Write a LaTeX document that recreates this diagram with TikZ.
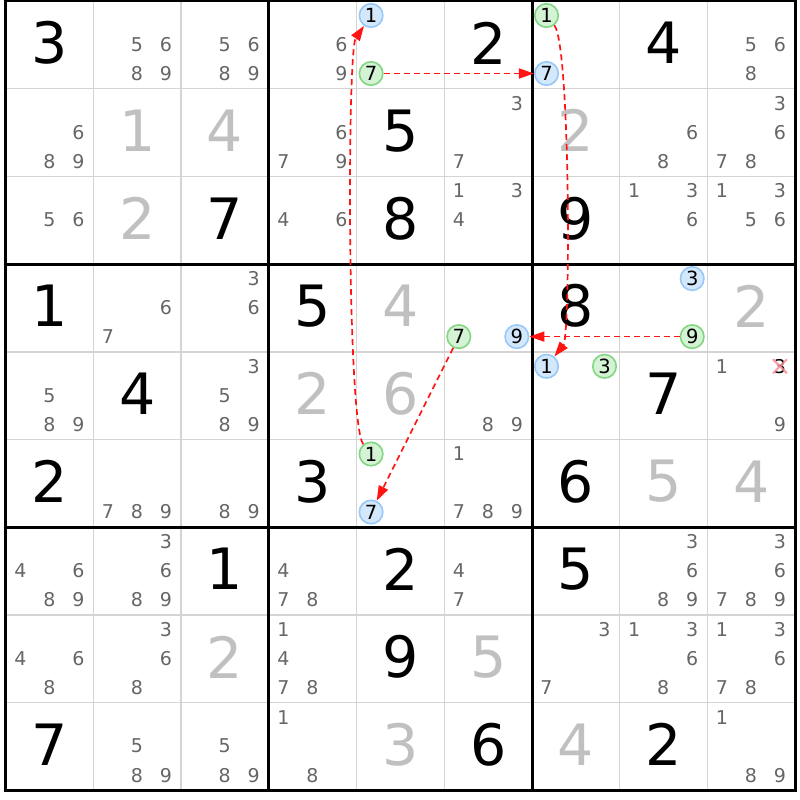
\documentclass[tikz,border=0pt]{standalone}
\usepackage{fontspec}
\setmainfont{DejaVu Sans}
\usetikzlibrary{arrows.meta}
\definecolor{candgray}{RGB}{102,102,102}
\definecolor{solvgray}{RGB}{192,192,192}
\definecolor{thingray}{RGB}{212,212,212}
\definecolor{bfill}{RGB}{212,232,252}
\definecolor{bdraw}{RGB}{150,200,250}
\definecolor{gfill}{RGB}{212,242,212}
\definecolor{gdraw}{RGB}{130,214,130}
\definecolor{linkred}{RGB}{255,20,20}
\definecolor{crosspink}{RGB}{245,140,150}
\newcommand\placemark[5]{%
  \pgfmathsetmacro\px{5.8+87.7*#3+14.5+29*mod(#5-1,3)}%
  \pgfmathsetmacro\py{1+87.7*#4+14.5+29*floor((#5-1)/3)}%
  \node[#1] (#2) at (\px,\py) {#5};}
\begin{document}
\begin{tikzpicture}[x=1pt,y=-1pt,
  given/.style={font=\fontsize{57}{60}\selectfont, text=black, inner sep=0pt},
  solved/.style={given, text=solvgray},
  cand/.style={font=\fontsize{19}{20}\selectfont, text=candgray, inner sep=0pt},
  bmark/.style={circle, minimum size=23.5pt, inner sep=0pt, fill=bfill, draw=bdraw, line width=1.6pt, font=\fontsize{19.5}{20}\selectfont, text=black},
  gmark/.style={bmark, fill=gfill, draw=gdraw},
  gridthin/.style={draw=thingray, line width=1.5pt},
  gridthick/.style={draw=black, line width=3pt},
  chainarrow/.style={draw=linkred, line width=1.7pt, dash pattern=on 6pt off 4pt, -{Triangle[length=15pt,width=10pt]}},
  crossline/.style={draw=crosspink, line width=2pt, opacity=0.85}
]
\useasboundingbox[fill=white] (0,0) rectangle (800,800);
% grid
\foreach \i in {1,2,4,5,7,8} {
  \draw[gridthin] ({5.8+87.7*\i},1) -- ({5.8+87.7*\i},790.3);
  \draw[gridthin] (5.8,{1+87.7*\i}) -- (795.1,{1+87.7*\i});
}
\foreach \i in {3,6} {
  \draw[gridthick] ({5.8+87.7*\i},1) -- ({5.8+87.7*\i},790.3);
  \draw[gridthick] (5.8,{1+87.7*\i}) -- (795.1,{1+87.7*\i});
}
\draw[gridthick] (5.8,1) rectangle (795.1,790.3);
% given digits
\foreach \r/\c/\d in {0/0/3,0/5/2,0/7/4,1/4/5,2/2/7,2/4/8,2/6/9,3/0/1,3/3/5,3/6/8,4/1/4,4/7/7,5/0/2,5/3/3,5/6/6,6/2/1,6/4/2,6/6/5,7/4/9,8/0/7,8/5/6,8/7/2}
  \node[given] (v\r\c) at ({5.8+87.7*\c+43.85},{1+87.7*\r+42}) {\d};
% solved digits
\foreach \r/\c/\d in {1/1/1,1/2/4,1/6/2,2/1/2,3/4/4,3/8/2,4/3/2,4/4/6,5/7/5,5/8/4,7/2/2,7/5/5,8/4/3,8/6/4}
  \node[solved] (v\r\c) at ({5.8+87.7*\c+43.85},{1+87.7*\r+42}) {\d};
% candidates
\foreach \r/\c/\ds in {0/1/{5,6,8,9},0/2/{5,6,8,9},0/3/{6,9},0/8/{5,6,8},
  1/0/{6,8,9},1/3/{6,7,9},1/5/{3,7},1/7/{6,8},1/8/{3,6,7,8},
  2/0/{5,6},2/3/{4,6},2/5/{1,3,4},2/7/{1,3,6},2/8/{1,3,5,6},
  3/1/{6,7},3/2/{3,6},
  4/0/{5,8,9},4/2/{3,5,8,9},4/5/{8,9},4/8/{1,9},
  5/1/{7,8,9},5/2/{8,9},5/5/{1,7,8,9},
  6/0/{4,6,8,9},6/1/{3,6,8,9},6/3/{4,7,8},6/5/{4,7},6/7/{3,6,8,9},6/8/{3,6,7,8,9},
  7/0/{4,6,8},7/1/{3,6,8},7/3/{1,4,7,8},7/6/{3,7},7/7/{1,3,6,8},7/8/{1,3,6,7,8},
  8/1/{5,8,9},8/2/{5,8,9},8/3/{1,8},8/8/{1,8,9}} {
  \foreach \k in \ds {
    \placemark{cand}{n\r\c\k}{\c}{\r}{\k}
  }
}
% eliminated candidate
\placemark{cand,text=black}{n483}{8}{4}{3}
\draw[crossline] (n483.center) +(-7,-7) -- +(7,7) (n483.center) +(-7,7) -- +(7,-7);
% marked candidates
\placemark{bmark}{b041}{4}{0}{1}
\placemark{gmark}{g047}{4}{0}{7}
\placemark{gmark}{g061}{6}{0}{1}
\placemark{bmark}{b067}{6}{0}{7}
\placemark{gmark}{g357}{5}{3}{7}
\placemark{bmark}{b359}{5}{3}{9}
\placemark{bmark}{b373}{7}{3}{3}
\placemark{gmark}{g379}{7}{3}{9}
\placemark{bmark}{b461}{6}{4}{1}
\placemark{gmark}{g463}{6}{4}{3}
\placemark{gmark}{g541}{4}{5}{1}
\placemark{bmark}{b547}{4}{5}{7}
% links
\draw[chainarrow] (g541) .. controls +(-24,-30) and +(-24,35) .. (b041);
\draw[chainarrow] (g047) -- (b067);
\draw[chainarrow] (g061) .. controls +(24,30) and +(24,-30) .. (b461);
\draw[chainarrow] (g379) -- (b359);
\draw[chainarrow] (g357) -- (b547);
\end{tikzpicture}
\end{document}
